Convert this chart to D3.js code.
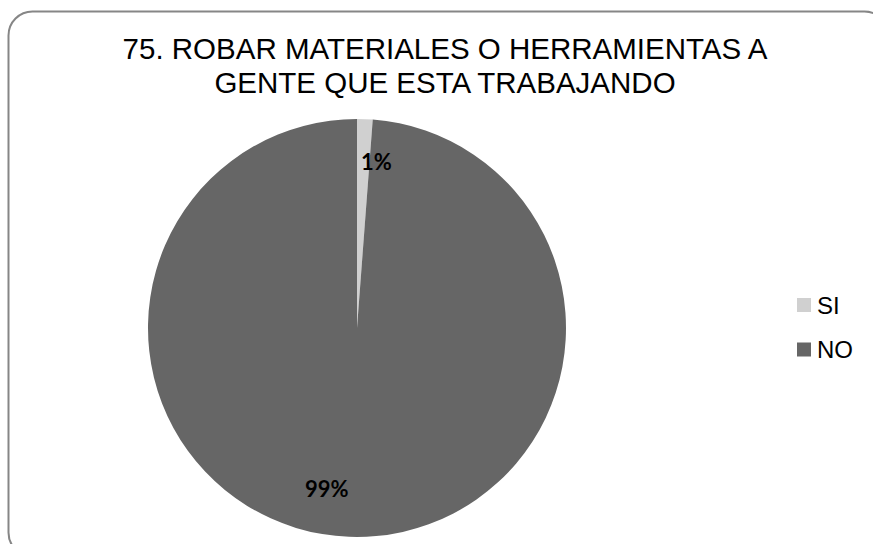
<!DOCTYPE html>
<html><head><meta charset="utf-8">
<script src="https://cdn.jsdelivr.net/npm/d3@7"></script>
<style>body{margin:0;background:#fff}svg{display:block}</style>
</head><body>
<script>
const categories = ["SI", "NO"];
const values = [1.2, 98.8];
const labels = ["1%", "99%"];
const colors = ["#d0d0d0", "#666666"];
const titleLines = ["75. ROBAR MATERIALES O HERRAMIENTAS A", "GENTE QUE ESTA TRABAJANDO"];

const W = 873, H = 544;
const svg = d3.select("body").append("svg").attr("width", W).attr("height", H);
svg.append("rect").attr("x", 8.5).attr("y", 11.5).attr("width", 880).attr("height", 545)
  .attr("rx", 24).attr("fill", "#fff").attr("stroke", "#868686").attr("stroke-width", 2);

svg.selectAll("text.title").data(titleLines).enter().append("text")
  .attr("x", 445).attr("y", (d, i) => 59 + i * 34)
  .attr("text-anchor", "middle").attr("font-family", "Liberation Sans, Arial, sans-serif")
  .attr("font-size", 29.5).attr("fill", "#000").text(d => d);

const cx = 357, cy = 328, r = 209;
const data = categories.map((c, i) => ({c, v: values[i], l: labels[i], col: colors[i]}));
const pie = d3.pie().value(d => d.v).sort(null);
const arc = d3.arc().innerRadius(0).outerRadius(r);
const g = svg.append("g").attr("transform", `translate(${cx},${cy})`);
const arcs = pie(data);
g.selectAll("path").data(arcs).enter().append("path")
  .attr("d", arc).attr("fill", d => d.data.col);

const labelArc = d3.arc().innerRadius(r * 0.8).outerRadius(r * 0.8);
const nudge = [[13, 1], [-24, -6]];
g.selectAll("text").data(arcs).enter().append("text")
  .attr("transform", d => { const [x, y] = labelArc.centroid(d); return `translate(${x + nudge[d.index][0]},${y + nudge[d.index][1]})`; })
  .attr("text-anchor", "middle").attr("dy", "0.35em")
  .attr("font-family", "Lato, Open Sans, sans-serif").attr("font-weight", "bold")
  .attr("font-size", 22).attr("fill", "#000").text(d => d.data.l);

const leg = svg.append("g");
const ly = d3.scalePoint().domain(categories).range([305, 349.5]);
leg.selectAll("rect").data(data).enter().append("rect")
  .attr("x", 797).attr("y", d => ly(d.c) - 7).attr("width", 14).attr("height", 14).attr("fill", d => d.col);
leg.selectAll("text").data(data).enter().append("text")
  .attr("x", 817).attr("y", d => ly(d.c) + 8.5)
  .attr("font-family", "Liberation Sans, Arial, sans-serif").attr("font-size", 24).attr("fill", "#000")
  .text(d => d.c);
</script>
</body></html>
